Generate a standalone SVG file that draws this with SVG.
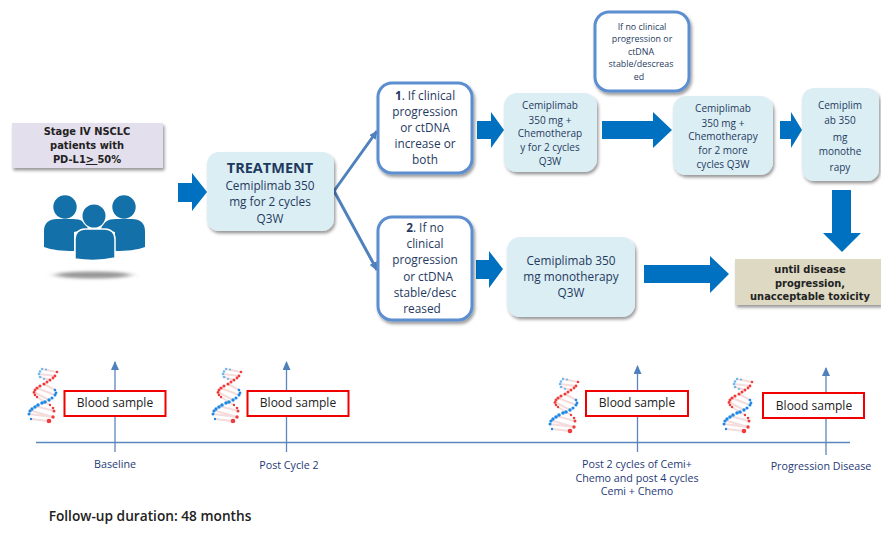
<svg xmlns="http://www.w3.org/2000/svg" width="881" height="533" viewBox="0 0 881 533">
<style>
text{font-family:"Open Sans","Noto Sans","Liberation Sans",sans-serif;text-anchor:middle;fill:#1f3a5f}
.teal{fill:#dbeef4;filter:url(#sh)}
.cond{fill:#fff;stroke:#5b8ed0;stroke-width:3;filter:url(#sh)}
.big{font-size:11.8px}
.mid{font-size:10px}
.sm{font-size:8.9px}
.blk{font-family:"DejaVu Sans",sans-serif;font-weight:bold;font-size:9.9px;fill:#222}
.arrow{fill:#0070c0}
.red{fill:#fff;stroke:#f00000;stroke-width:2}
.bs{font-size:12px;fill:#222}
.lab{font-size:10.7px;fill:#1f3a78}
.axis{stroke:#5b86c0;stroke-width:1.3;fill:none}
.user{fill:#1470a8}
</style>
<defs>
<filter id="sh" x="-15%" y="-15%" width="135%" height="135%"><feDropShadow dx="1.5" dy="2.5" stdDeviation="1.8" flood-color="#000" flood-opacity="0.4"/></filter>
<filter id="bl" x="-30%" y="-200%" width="160%" height="500%"><feGaussianBlur stdDeviation="5 1.8"/></filter>
<marker id="at" markerWidth="9" markerHeight="8" refX="8" refY="4" orient="auto" markerUnits="userSpaceOnUse"><path d="M0 0L9 4L0 8z" fill="#4f81bd"/></marker>
<g id="dna">
<path d="M15 1L30 4M12 6L28 8M13 9L23 12M17 16L28 22M10 20L28 27M7 24L22 32M10 29L23 37M8 38L27 43M2 42L26 49M2 46L26 49M4 51L22 53" fill="none" stroke="#f5dcdc" stroke-width="2"/>
<g fill="#6db6ee"><circle cx="15" cy="1" r="1.2"/><circle cx="19" cy="1.500" r="1.100"/><circle cx="13" cy="3.500" r="1.300"/><circle cx="12" cy="6" r="1.300"/><circle cx="13" cy="9" r="1.300"/><circle cx="17" cy="11" r="1.100"/></g>
<g fill="#ee3b3b"><circle cx="30" cy="4" r="1.300"/><circle cx="28" cy="8" r="1.400"/><circle cx="26" cy="10" r="1.400"/><circle cx="23" cy="12" r="1.500"/><circle cx="20" cy="14" r="1.500"/><circle cx="17" cy="16" r="1.600"/><circle cx="13" cy="18" r="1.600"/><circle cx="10" cy="20" r="1.600"/><circle cx="8" cy="22" r="1.500"/><circle cx="7" cy="24.500" r="1.400"/><circle cx="8" cy="27" r="1.300"/><circle cx="10" cy="29" r="1.200"/><circle cx="23" cy="37" r="1.200"/><circle cx="26" cy="40" r="1.300"/><circle cx="27" cy="43" r="1.500"/><circle cx="26" cy="49" r="1.700"/><circle cx="22" cy="53" r="2.300"/></g>
<g fill="#1e88e5"><circle cx="28" cy="22" r="1.300"/><circle cx="29" cy="25" r="1.400"/><circle cx="28" cy="27" r="1.500"/><circle cx="25" cy="30" r="1.600"/><circle cx="22" cy="32" r="1.700"/><circle cx="18" cy="34" r="1.800"/><circle cx="15" cy="35" r="1.800"/><circle cx="11" cy="37" r="1.800"/><circle cx="8" cy="39" r="1.800"/><circle cx="5" cy="41" r="1.700"/><circle cx="3" cy="43" r="1.600"/><circle cx="2" cy="46" r="1.500"/><circle cx="4" cy="51" r="1.200"/></g>
</g>
</defs>

<g id="connectors">
<path d="M334 191L377 131" stroke="#4f81bd" stroke-width="3" fill="none" marker-end="url(#at)"/>
<path d="M334 191L377 270" stroke="#4f81bd" stroke-width="3" fill="none" marker-end="url(#at)"/>
<path class="arrow" d="M178 183H192V173L207 192L192 211V202H178z"/>
<path class="arrow" d="M477 121H491V112L504 130L491 148V139H477z"/>
<path class="arrow" d="M602 121H653V112L672 130L653 148V139H602z"/>
<path class="arrow" d="M780 121H791V112L802 130L791 148V139H780z"/>
<path class="arrow" d="M832 190H851V233H861L842 252L823 233H832z"/>
<path class="arrow" d="M476 260H489V251L503 269L489 288V279H476z"/>
<path class="arrow" d="M644 265H710V256L729 274L710 293V283H644z"/>
<line class="axis" x1="36" y1="442.500" x2="850" y2="442.500"/>
<line class="axis" x1="115" y1="452" x2="115" y2="362" marker-end="url(#at)"/>
<line class="axis" x1="286.500" y1="452" x2="286.500" y2="362" marker-end="url(#at)"/>
<line class="axis" x1="637.500" y1="452" x2="637.500" y2="366" marker-end="url(#at)"/>
<line class="axis" x1="826" y1="455" x2="826" y2="368" marker-end="url(#at)"/>
</g>

<g id="stage"><rect x="12" y="123" width="151" height="45" fill="#e4dfec" filter="url(#sh)"/>
<text class="blk" x="87" y="135">Stage IV NSCLC</text><text class="blk" x="87" y="149">patients with</text><text class="blk" x="87" y="163">PD-L1<tspan text-decoration="underline">&gt; </tspan>50%</text></g>

<g id="patients">
<ellipse cx="93" cy="275" rx="38" ry="3.500" fill="#999" filter="url(#bl)"/>
<circle class="user" cx="65" cy="207" r="11.700"/><circle class="user" cx="124" cy="207" r="11.700"/>
<path class="user" d="M44 231C44 223 49 219 57 219H73C81 219 86 222 88 229L74 232V251C62 251 52 250 44 247z"/>
<path class="user" d="M145 231C145 223 140 219 132 219H116C108 219 103 222 101 229L115 232V251C127 251 137 250 145 247z"/>
<circle cx="94" cy="216" r="12.700" fill="#fff"/><circle class="user" cx="94" cy="216" r="11.500"/>
<path d="M75 259V239C75 233 79 229 85 229H105C111 229 115 233 115 239V258C102 261 87 261 75 259z" fill="#1470a8" stroke="#fff" stroke-width="1.500"/>
</g>

<g id="treatment"><rect class="teal" x="207" y="152" width="127" height="79" rx="12"/>
<text x="270" y="173" font-size="14.500" font-weight="bold" style="fill:#1f3a5f">TREATMENT</text>
<text class="big" x="270" y="190">Cemiplimab 350</text><text class="big" x="270" y="206">mg for 2 cycles</text><text class="big" x="270" y="223">Q3W</text></g>

<g id="condition1"><rect class="cond" x="378" y="83" width="94" height="90" rx="14"/>
<text class="big" x="425" y="100"><tspan font-weight="bold">1</tspan>. If clinical</text><text class="big" x="425" y="116">progression</text><text class="big" x="425" y="132">or ctDNA</text><text class="big" x="425" y="148">increase or</text><text class="big" x="425" y="164">both</text></g>

<g id="condition2"><rect class="cond" x="378" y="217" width="94" height="103" rx="14"/>
<text class="big" x="425" y="232"><tspan font-weight="bold">2</tspan>. If no</text><text class="big" x="425" y="248">clinical</text><text class="big" x="425" y="264">progression</text><text class="big" x="428" y="281">or ctDNA</text><text class="big" x="425" y="297">stable/desc</text><text class="big" x="422" y="313">reased</text></g>

<g id="cemi-chemo-2"><rect class="teal" x="504" y="93" width="93" height="79" rx="13"/>
<text class="mid" x="550" y="109">Cemiplimab</text><text class="mid" x="550" y="124">350 mg  +</text><text class="mid" x="550" y="137">Chemotherap</text><text class="mid" x="550" y="151">y for 2 cycles</text><text class="mid" x="550" y="165">Q3W</text></g>

<g id="note"><rect class="cond" x="595" y="12" width="94" height="79" rx="14"/>
<text class="sm" x="642" y="30">If no clinical</text><text class="sm" x="642" y="42">progression  or</text><text class="sm" x="641" y="55">ctDNA</text><text class="sm" x="641" y="67">stable/descreas</text><text class="sm" x="639" y="80">ed</text></g>

<g id="cemi-chemo-more"><rect class="teal" x="673" y="96" width="100" height="79" rx="13"/>
<text class="mid" x="723" y="112">Cemiplimab</text><text class="mid" x="723" y="127">350 mg  +</text><text class="mid" x="723" y="140">Chemotherapy</text><text class="mid" x="723" y="154">for 2 more</text><text class="mid" x="723" y="168">cycles Q3W</text></g>

<g id="cemi-mono-top"><rect class="teal" x="802" y="88" width="77" height="93" rx="12"/>
<text class="mid" x="840" y="109">Cemiplim</text><text class="mid" x="840" y="124">ab 350</text><text class="mid" x="840" y="141">mg</text><text class="mid" x="840" y="155">monothe</text><text class="mid" x="840" y="171">rapy</text></g>

<g id="cemi-mono"><rect class="teal" x="507" y="237" width="128" height="80" rx="13"/>
<text class="big" x="571" y="265">Cemiplimab 350</text><text class="big" x="571" y="281">mg monotherapy</text><text class="big" x="571" y="297">Q3W</text></g>

<g id="until"><rect x="735" y="259" width="146" height="46" fill="#ddd9c3" filter="url(#sh)"/>
<text class="blk" x="810" y="273">until disease</text><text class="blk" x="810" y="287">progression,</text><text class="blk" x="810" y="300">unacceptable toxicity</text></g>

<g id="sample1"><use href="#dna" x="27" y="368"/><rect class="red" x="64.500" y="391" width="101" height="25"/><text class="bs" x="115" y="407">Blood sample</text></g>
<g id="sample2"><use href="#dna" x="211" y="368"/><rect class="red" x="247.500" y="391" width="101" height="25"/><text class="bs" x="298" y="407">Blood sample</text></g>
<g id="sample3"><use href="#dna" x="548" y="378"/><rect class="red" x="586" y="391" width="102" height="25"/><text class="bs" x="637" y="407">Blood sample</text></g>
<g id="sample4"><use href="#dna" x="722" y="378"/><rect class="red" x="763" y="393" width="101" height="25"/><text class="bs" x="814" y="410">Blood sample</text></g>

<g id="labels">
<text class="lab" x="115" y="468">Baseline</text>
<text class="lab" x="289" y="469">Post Cycle 2</text>
<text class="lab" x="637" y="468">Post 2 cycles of Cemi+</text><text class="lab" x="637" y="482">Chemo and post 4 cycles</text><text class="lab" x="637" y="495">Cemi + Chemo</text>
<text class="lab" x="821" y="470">Progression Disease</text>
<text x="150" y="521" style="font-family:'Open Sans',sans-serif;font-size:13.700px;fill:#222;font-weight:600">Follow-up duration: 48 months</text>
</g>
</svg>
